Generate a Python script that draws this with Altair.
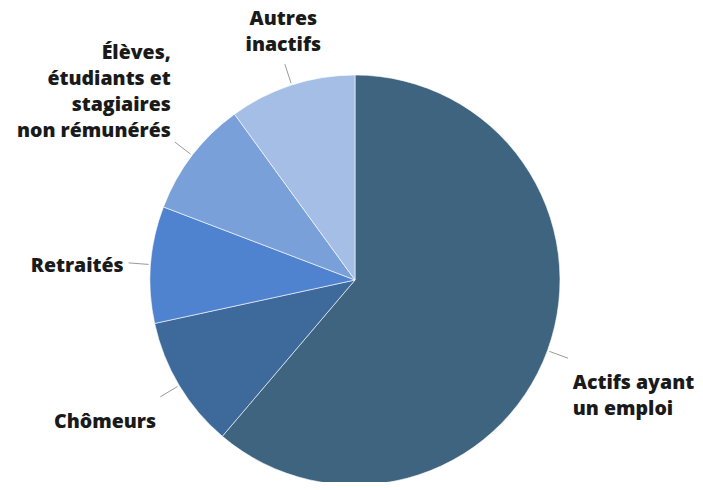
import altair as alt
import pandas as pd

categories = [
    "Actifs ayant un emploi",
    "Chômeurs",
    "Retraités",
    "Élèves, étudiants et stagiaires non rémunérés",
    "Autres inactifs",
]
label_lines = [
    "Actifs ayant\nun emploi",
    "Chômeurs",
    "Retraités",
    "Élèves,\nétudiants et\nstagiaires\nnon rémunérés",
    "Autres\ninactifs",
]
values = [61.2, 10.4, 9.2, 9.2, 10.0]
colors = ["#3e6480", "#3d6a9b", "#5083cf", "#7aa0d9", "#a5bee6"]

df = pd.DataFrame({"cat": categories, "label": label_lines, "value": values, "ord": list(range(len(values)))})

CX, CY, R = 347, 272, 205
LH = 26

base = alt.Chart(df)

pie = base.mark_arc(radius=R, stroke="white", strokeWidth=0.6).encode(
    theta=alt.Theta("value:Q", stack=True),
    order=alt.Order("ord:Q"),
    color=alt.Color("cat:N", scale=alt.Scale(domain=categories, range=colors), legend=None),
    x=alt.value(CX),
    y=alt.value(CY),
)

geo = (
    base.transform_joinaggregate(total="sum(value)")
    .transform_window(cum="sum(value)", sort=[alt.SortField("ord")], frame=[None, 0])
    .transform_calculate(mid="(datum.cum - datum.value/2)/datum.total*2*PI")
    .transform_calculate(s="sin(datum.mid)")
    .transform_calculate(c="cos(datum.mid)")
    .transform_calculate(nl="length(split(datum.label, '\\n'))")
    .transform_calculate(x1=f"{CX} + {R + 2}*datum.s")
    .transform_calculate(y1=f"{CY} - {R + 2}*datum.c")
    .transform_calculate(x2=f"{CX} + {R + 22}*datum.s")
    .transform_calculate(y2=f"{CY} - {R + 22}*datum.c")
    .transform_calculate(tx=f"{CX} + {R + 27}*datum.s")
    .transform_calculate(
        ty=f"{CY} - {R + 27}*datum.c + (datum.c < -0.3 ? 14 : datum.c > 0.3 ? -3 - datum.nl*23 : -6)"
    )
)

leaders = geo.mark_rule(color="#9a9a9a", strokeWidth=1).encode(
    x=alt.X("x1:Q", scale=None, axis=None),
    y=alt.Y("y1:Q", scale=None, axis=None),
    x2="x2:Q",
    y2="y2:Q",
)

texts = geo.mark_text(
    font="Open Sans",
    fontWeight=800,
    fontSize=19.5,
    lineHeight=LH,
    lineBreak="\n",
    color="#1a1a1a",
    baseline="top",
    align=alt.expr("datum.s > 0.5 ? 'left' : datum.s < -0.5 ? 'right' : 'center'"),
).encode(
    x=alt.X("tx:Q", scale=None, axis=None),
    y=alt.Y("ty:Q", scale=None, axis=None),
    text="label:N",
)

chart = (
    alt.layer(pie, leaders, texts)
    .properties(width=687, height=474, padding=0, autosize=alt.AutoSizeParams(type="none"))
    .configure_view(strokeWidth=0)
)

chart.save("out.html", embed_options={"renderer": "svg", "actions": False})
